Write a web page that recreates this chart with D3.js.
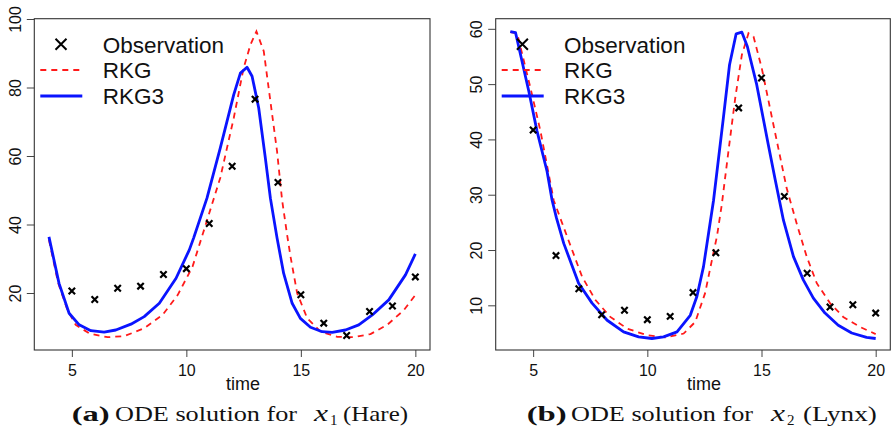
<!DOCTYPE html>
<html><head><meta charset="utf-8">
<script src="https://cdn.jsdelivr.net/npm/d3@7"></script>
<style>body{margin:0;background:#fff}svg{display:block}</style>
</head><body><svg id="c" width="891" height="431"></svg>
<script>
// ---------------- data ----------------
const obsTimes = [5,6,7,8,9,10,11,12,13,14,15,16,17,18,19,20];
const hareObs  = [20.6,18.1,21.4,22.0,25.4,27.1,40.3,57.0,76.6,52.3,19.5,11.2,7.6,14.6,16.2,24.7];
const lynxObs  = [41.7,19.0,13.0,8.3,9.1,7.4,8.0,12.3,19.5,45.7,51.1,29.7,15.8,9.7,10.1,8.6];

// ODE solutions [time, value]
const hareRKG = [[4.0,35.5],[4.4,23.0],[4.81,15.0],[5.17,10.7],[5.76,8.2],[6.56,7.1],[7.29,7.4],[8.16,9.7],[8.96,13.6],[9.62,19.4],[10.27,27.7],[10.73,37.5],[11.48,53.6],[12.07,71.1],[12.5,85.7],[12.8,92.5],[13.06,96.4],[13.38,90.6],[13.67,76.0],[13.96,61.4],[14.18,47.2],[14.4,37.0],[14.55,30.6],[14.84,19.9],[15.28,12.6],[15.86,8.7],[16.59,7.2],[17.31,7.1],[18.04,8.0],[18.77,10.7],[19.5,15.0],[20.0,19.4]];
const hareRKG3 = [[4.0,36.4],[4.44,22.8],[4.88,14.1],[5.32,10.7],[5.83,9.0],[6.41,8.6],[6.92,9.2],[7.58,10.9],[8.16,13.1],[8.82,17.0],[9.55,24.3],[10.13,32.6],[10.32,36.1],[10.9,47.7],[11.48,62.3],[12.07,77.9],[12.36,84.2],[12.65,85.9],[12.87,83.3],[13.16,74.0],[13.45,59.4],[13.67,47.7],[13.96,36.1],[14.25,25.7],[14.62,17.0],[14.98,12.6],[15.42,10.0],[15.93,8.7],[16.37,8.5],[16.95,9.2],[17.53,10.7],[18.12,13.6],[18.84,18.0],[19.57,25.3],[20.0,31.4]];
const lynxRKG = [[4.0,59.4],[4.3,59.2],[4.9,49.0],[5.32,41.5],[5.9,29.0],[6.49,22.4],[7.14,15.2],[7.72,11.0],[8.38,7.9],[9.11,5.8],[9.98,4.6],[10.78,4.2],[11.59,4.9],[12.1,7.0],[12.53,12.2],[12.83,18.2],[13.05,22.5],[13.26,28.2],[13.55,37.8],[13.85,47.5],[14.14,55.3],[14.43,59.2],[14.65,58.6],[15.01,52.9],[15.52,42.7],[16.1,31.2],[16.54,24.8],[16.98,18.8],[17.42,14.0],[18.0,10.4],[18.58,7.9],[19.31,6.1],[20.0,4.8]];
const lynxRKG3 = [[4.0,59.5],[4.23,59.3],[4.81,48.7],[5.17,41.5],[5.61,34.2],[5.83,29.0],[6.02,25.8],[6.34,21.2],[6.99,14.0],[7.58,10.4],[8.24,7.3],[8.96,5.2],[9.62,4.3],[10.2,4.0],[10.71,4.3],[11.3,5.2],[11.88,8.2],[12.17,11.6],[12.46,17.0],[12.68,23.0],[12.9,29.0],[13.33,43.9],[13.6,53.5],[13.89,59.1],[14.14,59.4],[14.38,56.8],[14.79,49.9],[15.3,39.0],[15.6,32.7],[15.96,25.4],[16.4,18.8],[16.83,14.6],[17.27,11.3],[17.78,8.6],[18.36,6.4],[18.95,5.0],[19.6,4.2],[20.0,4.0]];

const xTicks = [5,10,15,20];
const hareYTicks = [20,40,60,80,100];
const lynxYTicks = [10,20,30,40,50,60];
const legendLabels = ["Observation","RKG","RKG3"];
const xLabel = "time";

// ---------------- drawing ----------------
const svg = d3.select("#c");
const SANS = "'Liberation Sans', Arial, sans-serif";
const SERIF = "'Liberation Serif', 'Times New Roman', serif";

function panel(o){
  const x = d3.scaleLinear().domain(o.xDom).range([o.l, o.r]);
  const y = d3.scaleLinear().domain(o.yDom).range([o.b, o.t]);
  const g = svg.append("g");

  // axes
  const ax = g.append("g").attr("transform",`translate(0,${o.b})`)
    .call(d3.axisBottom(x).tickValues(xTicks).tickSize(7).tickPadding(3).tickSizeOuter(0));
  ax.select(".domain").remove();
  ax.selectAll("line").attr("stroke","#444");
  ax.selectAll("text").attr("font-family",SANS).attr("font-size",16).attr("fill","#111")
    .attr("y",0).attr("dy",null).attr("transform","translate(0,25.5)");

  const ay = g.append("g").attr("transform",`translate(${o.l},0)`)
    .call(d3.axisLeft(y).tickValues(o.yTicks).tickSize(7.5).tickSizeOuter(0));
  ay.select(".domain").remove();
  ay.selectAll("line").attr("stroke","#444");
  ay.selectAll("text").attr("font-family",SANS).attr("font-size",16).attr("fill","#111")
    .attr("x",0).attr("dy",null).attr("text-anchor","middle")
    .attr("transform","translate(-13.3,0) rotate(-90)");

  // box
  g.append("rect").attr("x",o.l).attr("y",o.t).attr("width",o.r-o.l).attr("height",o.b-o.t)
    .attr("fill","none").attr("stroke","#333").attr("stroke-width",1.1);

  // x label
  g.append("text").attr("x",o.xlabX).attr("y",390).attr("text-anchor","middle")
    .attr("font-family",SANS).attr("font-size",18).attr("fill","#111").text(xLabel);

  const line = d3.line().x(d=>x(d[0])).y(d=>y(d[1]));
  g.append("path").datum(o.rkg).attr("d",line).attr("fill","none")
    .attr("stroke","#ff1a1a").attr("stroke-width",1.8).attr("stroke-dasharray","6,5");
  g.append("path").datum(o.rkg3).attr("d",line).attr("fill","none")
    .attr("stroke","#0a14ff").attr("stroke-width",2.8).attr("stroke-linejoin","round");

  // observations
  const s = 3.2;
  const obs = g.append("g");
  obsTimes.forEach((t,i)=>{
    const cx = x(t), cy = y(o.obs[i]);
    obs.append("path").attr("d",`M${cx-s},${cy-s}L${cx+s},${cy+s}M${cx-s},${cy+s}L${cx+s},${cy-s}`)
      .attr("stroke","#000").attr("stroke-width",2.2).attr("fill","none");
  });

  // legend
  const lg = g.append("g").attr("transform",`translate(${o.l},0)`);
  const rows = [44.3,70,96];
  const ls = 5.5;
  lg.append("path").attr("d",`M${26.7-ls},${rows[0]-ls}L${26.7+ls},${rows[0]+ls}M${26.7-ls},${rows[0]+ls}L${26.7+ls},${rows[0]-ls}`)
    .attr("stroke","#000").attr("stroke-width",2).attr("fill","none");
  lg.append("line").attr("x1",6).attr("x2",48).attr("y1",rows[1]).attr("y2",rows[1])
    .attr("stroke","#ff1a1a").attr("stroke-width",1.8).attr("stroke-dasharray","6,5");
  lg.append("line").attr("x1",6).attr("x2",48).attr("y1",rows[2]).attr("y2",rows[2])
    .attr("stroke","#0a14ff").attr("stroke-width",2.8);
  legendLabels.forEach((lab,i)=>{
    lg.append("text").attr("x",68.4).attr("y",rows[i]+8.2).attr("font-family",SANS)
      .attr("font-size",22.5).attr("fill","#111").text(lab);
  });

  // caption
  const cg = g.append("g").attr("font-family",SERIF).attr("font-size",21).attr("fill","#111");
  const by = 421;
  cg.append("text").attr("x",o.cap.a).attr("y",by).attr("font-weight","bold")
    .attr("textLength",o.cap.aw).attr("lengthAdjust","spacingAndGlyphs").text(o.cap.lab);
  cg.append("text").attr("x",o.cap.ode).attr("y",by)
    .attr("textLength",182).attr("lengthAdjust","spacingAndGlyphs").text("ODE solution for");
  cg.append("text").attr("x",o.cap.xv).attr("y",by).attr("font-style","italic").attr("font-size",23)
    .attr("textLength",14).attr("lengthAdjust","spacingAndGlyphs").text("x");
  cg.append("text").attr("x",o.cap.sub).attr("y",by+4).attr("font-size",15).text(o.cap.subT);
  cg.append("text").attr("x",o.cap.par).attr("y",by)
    .attr("textLength",o.cap.pw).attr("lengthAdjust","spacingAndGlyphs").text(o.cap.parT);
}

panel({l:34.3,r:430,t:18.7,b:350,xDom:[3.36,20.64],yDom:[3.36,100.09],yTicks:hareYTicks,
  rkg:hareRKG,rkg3:hareRKG3,obs:hareObs,xlabX:243,
  cap:{lab:"(a)",a:71.7,aw:38,ode:115,xv:314,sub:330,subT:"1",par:343,parT:"(Hare)",pw:65}});
panel({l:495.7,r:890.3,t:18.7,b:350,xDom:[3.36,20.64],yDom:[1.92,61.83],yTicks:lynxYTicks,
  rkg:lynxRKG,rkg3:lynxRKG3,obs:lynxObs,xlabX:704,
  cap:{lab:"(b)",a:526.7,aw:40,ode:571,xv:771,sub:787,subT:"2",par:803,parT:"(Lynx)",pw:73.7}});
</script>
</body></html>
